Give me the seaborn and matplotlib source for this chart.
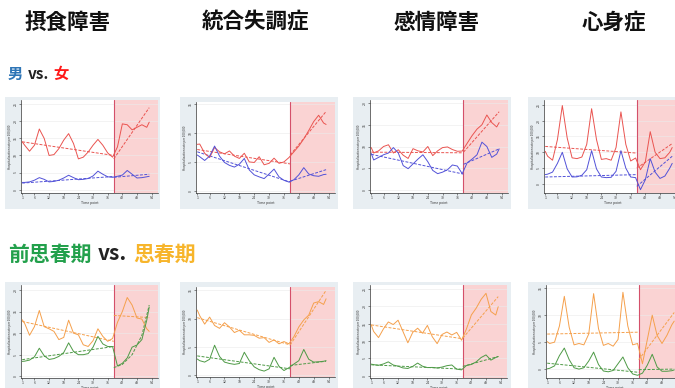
import matplotlib
matplotlib.use("Agg")
import matplotlib.pyplot as plt
import seaborn as sns
from matplotlib.patches import Rectangle

time_points = [1, 2, 4, 6, 8, 10, 12, 14, 16, 18, 20, 22, 24, 26,
               28, 30, 32, 34, 36, 38, 40, 42, 44, 46, 48, 50, 52, 53]
x_ticks = [1, 6, 12, 18, 24, 30, 36, 42, 48, 54]
break_point = 38.5
fit_times_pre = [1, break_point]
fit_times_post = [break_point, 53]

headers = ["摂食障害", "統合失調症", "感情障害", "心身症"]

# row 1: male (blue) vs female (red)
eating_female = [2.8, 2.6, 2.25, 2.6, 3.55, 3.0, 2.0, 2.05, 2.4, 2.9, 3.28, 2.7, 1.8, 1.9,
                 2.2, 2.6, 2.94, 2.6, 2.15, 1.9, 2.5, 3.85, 3.8, 3.5, 3.65, 3.8, 3.65, 3.95]
eating_male = [0.42, 0.42, 0.45, 0.55, 0.7, 0.6, 0.45, 0.48, 0.55, 0.68, 0.84, 0.7, 0.58, 0.6,
               0.65, 0.8, 1.08, 0.9, 0.75, 0.72, 0.78, 0.85, 1.12, 0.9, 0.68, 0.7, 0.75, 0.78]
schizo_female = [1.61, 1.62, 1.3, 1.15, 1.5, 1.35, 1.28, 1.38, 1.2, 1.12, 1.3, 1.0, 0.98, 1.18,
                 0.9, 0.95, 1.13, 0.95, 1.0, 1.15, 1.35, 1.55, 1.8, 2.09, 2.4, 2.62, 2.35, 2.3]
schizo_male = [1.24, 1.18, 1.05, 1.2, 1.55, 1.2, 0.98, 0.88, 0.82, 0.92, 1.12, 0.72, 0.55, 0.48,
               0.42, 0.58, 0.75, 0.48, 0.36, 0.3, 0.38, 0.55, 0.8, 0.58, 0.52, 0.5, 0.56, 0.57]
mood_female = [1.95, 1.7, 1.8, 2.0, 2.08, 1.7, 1.85, 1.6, 1.45, 1.9, 1.8, 1.75, 2.0, 1.58,
               1.8, 1.95, 1.98, 1.86, 1.78, 1.79, 2.15, 2.5, 2.8, 3.0, 3.45, 3.1, 2.9, 3.1]
mood_male = [1.68, 1.38, 1.5, 1.62, 1.7, 1.95, 1.7, 1.12, 0.98, 1.2, 1.42, 1.62, 1.3, 0.9,
             0.75, 0.82, 0.93, 1.15, 1.1, 0.75, 1.25, 1.42, 1.62, 2.2, 2.0, 1.5, 1.65, 1.89]
psycho_female = [2.06, 1.75, 1.5, 2.8, 4.95, 2.9, 1.65, 1.6, 1.7, 2.5, 4.75, 2.8, 1.55, 1.6,
                 1.5, 2.3, 4.55, 2.5, 1.45, 1.64, 0.9, 1.4, 3.3, 2.0, 1.6, 1.65, 2.0, 2.3]
psycho_male = [0.59, 0.62, 0.75, 1.3, 2.0, 0.95, 0.44, 0.45, 0.55, 0.9, 2.1, 0.95, 0.44, 0.4,
               0.42, 0.8, 2.1, 1.0, 0.44, 0.4, -0.36, 0.27, 1.6, 0.75, 0.35, 0.5, 1.0, 1.3]

# row 2: pre-puberty (green) vs puberty (orange)
eating_puberty = [2.62, 2.45, 1.9, 2.3, 3.05, 2.3, 2.2, 2.08, 1.7, 1.8, 2.6, 2.0, 1.92, 1.46,
                  1.38, 1.65, 2.2, 1.85, 1.62, 1.75, 2.5, 3.0, 3.65, 3.3, 2.7, 2.65, 2.2, 2.08]
eating_prepuberty = [0.69, 0.7, 0.75, 0.9, 1.3, 0.95, 0.78, 0.82, 0.92, 1.1, 1.55, 1.15, 1.0, 1.0,
                     1.05, 1.35, 1.85, 1.5, 1.38, 1.38, 0.48, 0.6, 0.85, 1.35, 1.45, 1.7, 2.6, 3.2]
schizo_puberty = [2.3, 2.1, 1.8, 2.05, 1.75, 1.65, 1.85, 1.7, 1.5, 1.58, 1.42, 1.42, 1.4, 1.3,
                  1.32, 1.15, 1.24, 1.1, 1.18, 1.1, 1.35, 1.7, 1.95, 2.12, 2.55, 2.6, 2.5, 2.7]
schizo_prepuberty = [0.56, 0.5, 0.45, 0.55, 1.05, 0.65, 0.45, 0.4, 0.37, 0.4, 0.8, 0.5, 0.28, 0.18,
                     0.13, 0.21, 0.62, 0.3, 0.15, 0.25, 0.38, 0.5, 0.9, 0.55, 0.45, 0.46, 0.48, 0.5]
mood_puberty = [2.93, 2.55, 2.2, 2.7, 3.1, 2.95, 3.2, 2.55, 1.9, 2.5, 2.74, 2.45, 2.9, 2.25,
                1.85, 2.38, 2.52, 2.35, 2.5, 2.05, 2.7, 3.5, 3.9, 4.4, 4.75, 3.7, 3.5, 3.98]
mood_prepuberty = [0.67, 0.64, 0.6, 0.68, 0.8, 0.62, 0.55, 0.45, 0.42, 0.54, 0.73, 0.55, 0.47, 0.48,
                   0.45, 0.5, 0.58, 0.62, 0.38, 0.34, 0.59, 0.65, 0.8, 1.05, 1.2, 0.9, 1.05, 1.11]
psycho_puberty = [1.02, 0.95, 1.0, 1.6, 2.7, 1.55, 0.9, 0.95, 0.9, 1.3, 2.8, 1.5, 0.88, 0.95,
                  0.85, 1.1, 2.85, 1.6, 0.9, 0.95, 0.2, 1.1, 2.0, 1.25, 0.95, 1.25, 1.64, 1.78]
psycho_prepuberty = [0.01, 0.03, 0.12, 0.5, 0.78, 0.35, 0.05, 0.0, 0.05, 0.3, 0.63, 0.17, -0.07, -0.1,
                     -0.05, 0.2, 0.45, 0.05, -0.18, -0.23, -0.15, 0.15, 0.55, 0.08, -0.08, -0.08, -0.06, -0.03]

# segmented-regression fits: [pre start, pre end, post start, post end]
fit_eating_female = [2.8, 2.0, 1.8, 4.8]
fit_eating_male = [0.38, 0.77, 0.72, 0.9]
fit_schizo_female = [1.43, 0.93, 1.24, 2.75]
fit_schizo_male = [1.35, 0.3, 0.33, 0.73]
fit_mood_female = [1.74, 1.71, 1.74, 3.6]
fit_mood_male = [1.64, 0.73, 1.18, 1.89]
fit_psycho_female = [2.37, 1.95, 1.0, 2.55]
fit_psycho_male = [0.44, 0.59, -0.15, 1.75]
fit_eating_puberty = [2.54, 1.62, 2.82, 2.72]
fit_eating_prepuberty = [0.77, 1.38, 0.4, 3.3]
fit_schizo_puberty = [2.03, 1.06, 1.06, 3.0]
fit_schizo_prepuberty = [0.67, 0.21, 0.33, 0.48]
fit_mood_puberty = [2.93, 2.13, 2.17, 4.56]
fit_mood_prepuberty = [0.63, 0.38, 0.54, 1.11]
fit_psycho_puberty = [1.3, 1.37, 0.35, 2.1]
fit_psycho_prepuberty = [0.22, -0.12, -0.02, 0.0]
# the pre-puberty eating-disorder post-period fit is curved
curve_times = [38.5, 42, 46, 50, 53]
curve_eating_prepuberty = [0.4, 0.55, 1.0, 1.9, 3.3]

# ---- style ----
RED, BLUE = "#ea5450", "#5252d8"
ORANGE, GREEN = "#f5a04c", "#4e9a46"
PINK, VLINE, FRAME = "#fad3d3", "#d4506a", "#e8eef2"

sns.set_theme(style="ticks")
plt.rcParams["font.family"] = ["Noto Sans CJK JP", "DejaVu Sans"]

W, H = 675, 388
fig = plt.figure(figsize=(W / 100, H / 100), dpi=100)


def px_rect(x0, y0, x1, y1):
    return [x0 / W, 1 - y1 / H, (x1 - x0) / W, (y1 - y0) / H]


panels = [
    # (plot box px, frame box px, series, fits, colours, ylim, n y ticks)
    ((21, 100, 158, 193), (5, 97, 160, 209), [eating_female, eating_male],
     [fit_eating_female, fit_eating_male], [RED, BLUE], (-0.2, 5.25), 6),
    ((196, 102, 335, 193), (180, 97, 338, 209), [schizo_female, schizo_male],
     [fit_schizo_female, fit_schizo_male], [RED, BLUE], (-0.08, 3.08), 4),
    ((370, 100, 508, 193), (353, 97, 511, 209), [mood_female, mood_male],
     [fit_mood_female, fit_mood_male], [RED, BLUE], (-0.14, 4.14), 5),
    ((544, 100, 681, 193), (528, 97, 700, 209), [psycho_female, psycho_male],
     [fit_psycho_female, fit_psycho_male], [RED, BLUE], (-0.57, 5.3), 6),
    ((21, 285, 158, 378), (5, 282, 160, 400), [eating_puberty, eating_prepuberty],
     [fit_eating_puberty, fit_eating_prepuberty], [ORANGE, GREEN], (-0.08, 4.23), 5),
    ((196, 287, 335, 377), (180, 282, 338, 400), [schizo_puberty, schizo_prepuberty],
     [fit_schizo_puberty, fit_schizo_prepuberty], [ORANGE, GREEN], (-0.08, 3.12), 4),
    ((370, 285, 507, 378), (353, 282, 511, 400), [mood_puberty, mood_prepuberty],
     [fit_mood_puberty, fit_mood_prepuberty], [ORANGE, GREEN], (-0.13, 5.23), 6),
    ((546, 285, 683, 378), (528, 282, 700, 400), [psycho_puberty, psycho_prepuberty],
     [fit_psycho_puberty, fit_psycho_prepuberty], [ORANGE, GREEN], (-0.33, 3.12), 4),
]

for i, (box, frame, series, fits, colors, ylim, nt) in enumerate(panels):
    fx0, fy0, fx1, fy1 = frame
    fig.patches.append(Rectangle((fx0 / W, 1 - fy1 / H), (fx1 - fx0) / W, (fy1 - fy0) / H,
                                 transform=fig.transFigure, color=FRAME, lw=0, zorder=-5))
    ax = fig.add_axes(px_rect(*box), zorder=2)
    ax.set_facecolor("white")
    xmax = 56.6
    ax.axvspan(break_point, xmax, color=PINK, lw=0, zorder=0)
    ax.axvline(break_point, color=VLINE, lw=0.8, zorder=1)
    for vals, col in zip(series, colors):
        sns.lineplot(x=time_points, y=vals, ax=ax, color=col, lw=0.7, zorder=3)
    for j, (f, col) in enumerate(zip(fits, colors)):
        sns.lineplot(x=fit_times_pre, y=f[:2], ax=ax, color=col, lw=0.7,
                     linestyle=(0, (3, 1.5)), zorder=2)
        if i == 4 and j == 1:
            sns.lineplot(x=curve_times, y=curve_eating_prepuberty, ax=ax, color=col,
                         lw=0.7, linestyle=(0, (3, 1.5)), zorder=2)
        else:
            sns.lineplot(x=fit_times_post, y=f[2:], ax=ax, color=col, lw=0.7,
                         linestyle=(0, (3, 1.5)), zorder=2)

    ax.set_xlim(0.5, xmax)
    ax.set_ylim(*ylim)
    ax.set_xticks(x_ticks)
    ax.set_xticklabels([str(t) for t in x_ticks])
    ax.set_yticks(range(nt))
    ax.set_yticklabels([str(5 * k) for k in range(nt)], rotation=90, va="center")
    ax.yaxis.grid(True, color="#ebebeb", lw=0.4)
    ax.set_axisbelow(True)
    ax.tick_params(labelsize=2.5, length=1.5, width=0.4, pad=0.8, colors="#333333")
    ax.spines[["top", "right"]].set_visible(False)
    ax.spines[["left", "bottom"]].set_linewidth(0.5)
    ax.spines[["left", "bottom"]].set_color("#333333")
    ax.set_xlabel("Time point", fontsize=2.5, labelpad=0.5, color="#333333")
    ax.set_ylabel("Hospitalization rate per 100,000", fontsize=2.2,
                  labelpad=1, color="#333333")

# column headers
for label, cx in zip(headers, [68, 255, 436, 614]):
    fig.text(cx / W, 1 - 22 / H, label, ha="center", va="center",
             fontsize=15.5, fontweight="bold", color="#111111")


def colored_label(x, y, parts, size):
    renderer = fig.canvas.get_renderer()
    xpos = x / W
    for s, c in parts:
        t = fig.text(xpos, 1 - y / H, s, color=c, ha="left", va="center",
                     fontsize=size, fontweight="bold")
        xpos += (t.get_window_extent(renderer).width + size * 0.4) / W


colored_label(8, 74, [("男", "#2e75b6"), ("vs.", "#222222"), ("女", "#ff1a1a")], 11)
colored_label(8, 254, [("前思春期", "#22a04b"), ("vs.", "#222222"), ("思春期", "#f7b52b")], 15)

fig.savefig("out.png", dpi=100)
